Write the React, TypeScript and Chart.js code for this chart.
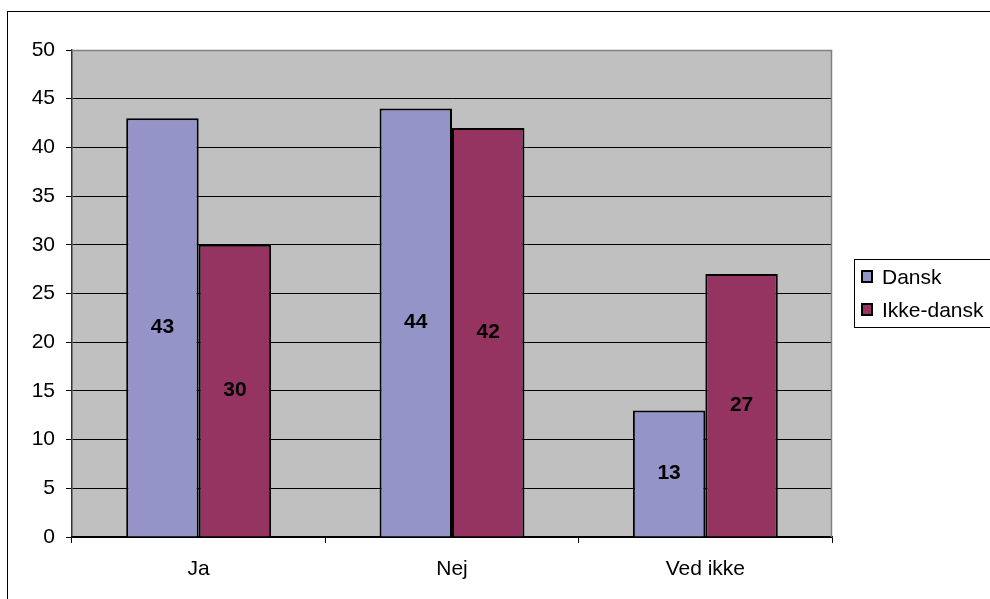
import React, { useEffect, useRef } from "react";
import { Chart, registerables } from "chart.js";

Chart.register(...registerables);

const categories = ["Ja", "Nej", "Ved ikke"];
const seriesNames = ["Dansk", "Ikke-dansk"];
const danskValues = [43, 44, 13];
const ikkeDanskValues = [30, 42, 27];
const yTickMax = 50;
const yTickStep = 5;

const COLORS = ["#9494C8", "#953361"];
const FONT = "'Liberation Sans', Arial, sans-serif";
const FS = 21;

const plotBg = {
  id: "plotBg",
  beforeDraw(chart: any) {
    const { ctx, chartArea: a } = chart;
    ctx.save();
    ctx.fillStyle = "#fff";
    ctx.fillRect(0, 0, chart.width, chart.height);
    ctx.fillStyle = "#C0C0C0";
    ctx.fillRect(a.left, a.top, a.right - a.left, a.bottom - a.top);
    ctx.strokeStyle = "#000";
    ctx.lineWidth = 1;
    ctx.strokeRect(7.5, 11.5, chart.width + 10, chart.height + 10);
    ctx.restore();
  },
  beforeDatasetsDraw(chart: any) {
    const { ctx, chartArea: a } = chart;
    ctx.save();
    ctx.strokeStyle = "#808080";
    ctx.lineWidth = 1.5;
    ctx.beginPath();
    ctx.moveTo(a.left, a.top + 0.5);
    ctx.lineTo(a.right - 0.5, a.top + 0.5);
    ctx.lineTo(a.right - 0.5, a.bottom);
    ctx.stroke();
    ctx.restore();
  },
};

const dataLabels = {
  id: "dataLabels",
  afterDatasetsDraw(chart: any) {
    const { ctx } = chart;
    ctx.save();
    ctx.font = `bold ${FS}px ${FONT}`;
    ctx.fillStyle = "#000";
    ctx.textAlign = "center";
    ctx.textBaseline = "middle";
    chart.data.datasets.forEach((ds: any, i: number) => {
      const meta = chart.getDatasetMeta(i);
      meta.data.forEach((el: any, j: number) => {
        const y = (el.y + el.base) / 2;
        ctx.fillText(String(ds.data[j]), el.x, y);
      });
    });
    ctx.restore();
  },
};

const customLegend = {
  id: "customLegend",
  afterDraw(chart: any) {
    const { ctx } = chart;
    ctx.save();
    ctx.strokeStyle = "#000";
    ctx.lineWidth = 1;
    ctx.strokeRect(854.5, 259.5, 140, 68);
    ctx.font = `${FS}px ${FONT}`;
    ctx.textBaseline = "middle";
    ctx.textAlign = "left";
    const rows = [277, 310];
    seriesNames.forEach((name, i) => {
      const cy = rows[i];
      ctx.fillStyle = COLORS[i];
      ctx.fillRect(862, cy - 6, 10, 11);
      ctx.lineWidth = 2;
      ctx.strokeStyle = "#000";
      ctx.strokeRect(862, cy - 6, 10, 11);
      ctx.fillStyle = "#000";
      ctx.fillText(name, 882, cy + 1);
    });
    ctx.restore();
  },
};

export default function App() {
  const ref = useRef<HTMLCanvasElement>(null);
  useEffect(() => {
    if (!ref.current) return;
    const chart = new Chart(ref.current, {
      type: "bar",
      data: {
        labels: categories,
        datasets: [
          {
            label: seriesNames[0],
            data: danskValues,
            backgroundColor: COLORS[0],
            borderColor: "#000",
            borderWidth: 2,
            categoryPercentage: 0.572,
            barPercentage: 1,
          },
          {
            label: seriesNames[1],
            data: ikkeDanskValues,
            backgroundColor: COLORS[1],
            borderColor: "#000",
            borderWidth: 2,
            categoryPercentage: 0.572,
            barPercentage: 1,
          },
        ],
      },
      options: {
        animation: false,
        responsive: false,
        devicePixelRatio: 1,
        layout: { padding: { left: 0, top: 50, right: 158, bottom: 0 } },
        plugins: { legend: { display: false }, tooltip: { enabled: false } },
        scales: {
          y: {
            min: 0,
            max: yTickMax,
            afterFit: (s: any) => {
              s.width = 72;
            },
            ticks: {
              stepSize: yTickStep,
              color: "#000",
              font: { family: FONT, size: FS },
              padding: 11,
            },
            grid: { color: "#000", lineWidth: 1, tickLength: 6 },
            border: { display: true, color: "#333", width: 1.5 },
          },
          x: {
            afterFit: (s: any) => {
              s.height = 62;
            },
            ticks: {
              color: "#000",
              font: { family: FONT, size: FS },
              padding: 14,
            },
            grid: {
              drawOnChartArea: false,
              color: "#000",
              tickLength: 6,
              offset: true,
            },
            border: { display: true, color: "#000", width: 1.5 },
          },
        },
      },
      plugins: [plotBg, dataLabels, customLegend],
    });
    return () => chart.destroy();
  }, []);
  return (
    <div style={{ position: "fixed", left: 0, top: 0, width: 990, height: 599 }}>
      <canvas ref={ref} width={990} height={599} style={{ width: 990, height: 599, display: "block" }} />
    </div>
  );
}
